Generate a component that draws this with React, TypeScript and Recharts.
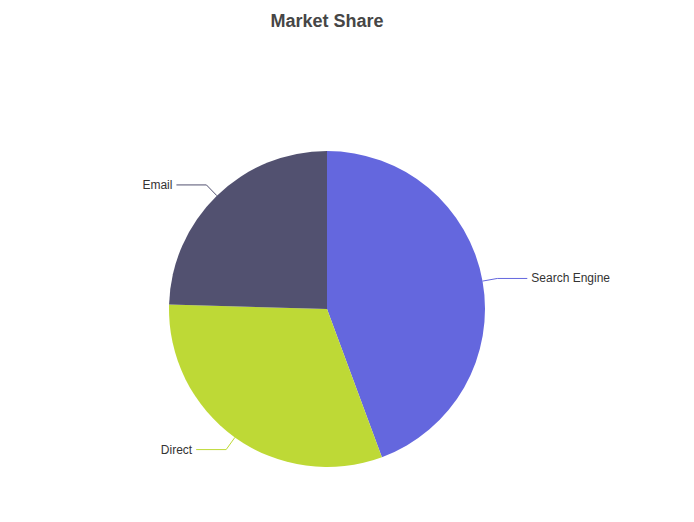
import { PieChart, Pie, Cell } from 'recharts'

const channels = ['Search Engine', 'Direct', 'Email']
const visits = [1048, 735, 580]
const COLORS = ['#6467de', '#bed936', '#525170']

const data = channels.map((name, i) => ({ name, value: visits[i] }))

const RAD = Math.PI / 180

// echarts-style label: short radial segment, then a horizontal one
const renderLabel = (props: any) => {
  const { cx, cy, midAngle, outerRadius, name, index } = props
  const cos = Math.cos(-midAngle * RAD)
  const sin = Math.sin(-midAngle * RAD)
  const sx = cx + outerRadius * cos
  const sy = cy + outerRadius * sin
  const mx = cx + (outerRadius + 15) * cos
  const my = cy + (outerRadius + 15) * sin
  const dir = cos >= 0 ? 1 : -1
  const ex = mx + dir * 30
  const color = COLORS[index % COLORS.length]
  return (
    <g key={`lbl-${index}`}>
      <polyline points={`${sx},${sy} ${mx},${my} ${ex},${my}`} fill="none" stroke={color} strokeWidth={1} />
      <text
        x={ex + dir * 4}
        y={my}
        textAnchor={dir > 0 ? 'start' : 'end'}
        dominantBaseline="central"
        fontSize={12}
        fill="#333"
        fontFamily="'Liberation Sans', Arial, sans-serif"
      >
        {name}
      </text>
    </g>
  )
}

export default function App() {
  return (
    <div style={{ position: 'absolute', left: 0, top: 0, width: 694, height: 522, background: '#fff' }}>
      <div
        style={{
          position: 'absolute',
          top: 11,
          width: 654,
          left: 0,
          textAlign: 'center',
          fontFamily: "'Liberation Sans', Arial, sans-serif",
          fontWeight: 'bold',
          fontSize: 18,
          color: '#464646',
        }}
      >
        Market Share
      </div>
      <PieChart width={654} height={522} margin={{ top: 0, right: 0, bottom: 0, left: 0 }}>
        <Pie
          data={data}
          dataKey="value"
          nameKey="name"
          cx={327}
          cy={309}
          outerRadius={158}
          startAngle={90}
          endAngle={-270}
          stroke="none"
          label={renderLabel}
          labelLine={false}
          isAnimationActive={false}
        >
          {data.map((_, i) => (
            <Cell key={i} fill={COLORS[i % COLORS.length]} />
          ))}
        </Pie>
      </PieChart>
    </div>
  )
}
